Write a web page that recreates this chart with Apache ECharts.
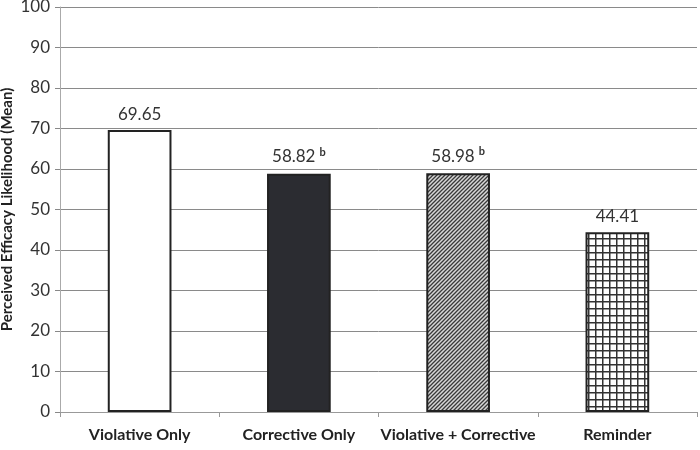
<!DOCTYPE html>
<html><head><meta charset="utf-8">
<script src="https://cdn.jsdelivr.net/npm/echarts@6/dist/echarts.min.js"></script>
<style>html,body{margin:0;padding:0;background:#fff}#c{width:700px;height:450px}</style>
</head><body><div id="c"></div>
<script>
var categories = ['Violative Only', 'Corrective Only', 'Violative + Corrective', 'Reminder'];
var values = [69.65, 58.82, 58.98, 44.41];
var superscripts = ['', 'b', 'b', ''];
var yTicks = [0, 10, 20, 30, 40, 50, 60, 70, 80, 90, 100];

function hatch() {
  var c = document.createElement('canvas'); c.width = 4; c.height = 4;
  var x = c.getContext('2d');
  x.fillStyle = '#d8d8d8'; x.fillRect(0, 0, 4, 4);
  x.strokeStyle = '#3a3a3a'; x.lineWidth = 1.3;
  x.beginPath();
  x.moveTo(0, 4); x.lineTo(4, 0);
  x.moveTo(-1, 1); x.lineTo(1, -1);
  x.moveTo(3, 5); x.lineTo(5, 3);
  x.stroke();
  return c;
}
function gridPat() {
  var c = document.createElement('canvas'); c.width = 7; c.height = 7;
  var x = c.getContext('2d');
  x.fillStyle = '#ffffff'; x.fillRect(0, 0, 7, 7);
  x.fillStyle = '#333333';
  x.fillRect(0, 0, 7, 1.5); x.fillRect(0, 0, 1.5, 7);
  return c;
}
var fills = ['#ffffff', '#2b2c31', {image: hatch(), repeat: 'repeat'}, {image: gridPat(), repeat: 'repeat'}];

var chart = echarts.init(document.getElementById('c'), null, {renderer: 'canvas'});
chart.setOption({
  animation: false,
  grid: {left: 60, right: 3, top: 7, bottom: 38, containLabel: false, outerBoundsMode: 'none'},
  xAxis: {
    type: 'category', data: categories,
    axisLine: {lineStyle: {color: '#999', width: 1}},
    axisTick: {show: true, interval: 0, length: 5, lineStyle: {color: '#999'}},
    axisLabel: {interval: 0, color: '#222', fontWeight: 'bold', fontSize: 16, fontFamily: 'Lato', margin: 15}
  },
  yAxis: {
    type: 'value', min: 0, max: 100, interval: 10,
    name: 'Perceived Efficacy Likelihood (Mean)', nameLocation: 'middle', nameGap: 45,
    nameMoveOverlap: false,
    nameTextStyle: {color: '#222', fontWeight: 'bold', fontSize: 15, fontFamily: 'Lato'},
    axisLine: {show: true, lineStyle: {color: '#aaa'}},
    axisTick: {show: true, length: 5, lineStyle: {color: '#888'}},
    axisLabel: {color: '#333', fontSize: 17, fontFamily: 'Lato', margin: 10,
      formatter: function (v) { return yTicks.indexOf(v) >= 0 ? String(v) : ''; }},
    splitLine: {lineStyle: {color: '#8a8a8a', width: 1}}
  },
  series: [{
    type: 'bar', barWidth: '40%',
    data: values.map(function (v, i) {
      return {value: v, itemStyle: {color: fills[i], borderColor: '#222', borderWidth: 2}};
    }),
    label: {
      show: true, position: 'top', distance: 7,
      formatter: function (p) {
        var s = superscripts[p.dataIndex];
        return '{v|' + p.value.toFixed(2) + '}' + (s ? '{s|' + s + '}' : '');
      },
      rich: {
        v: {fontSize: 17, color: '#333', fontFamily: 'Lato'},
        s: {fontSize: 11, color: '#333', fontFamily: 'Lato', fontWeight: 'bold', padding: [0, 0, 9, 4]}
      }
    }
  }]
});
</script></body></html>
